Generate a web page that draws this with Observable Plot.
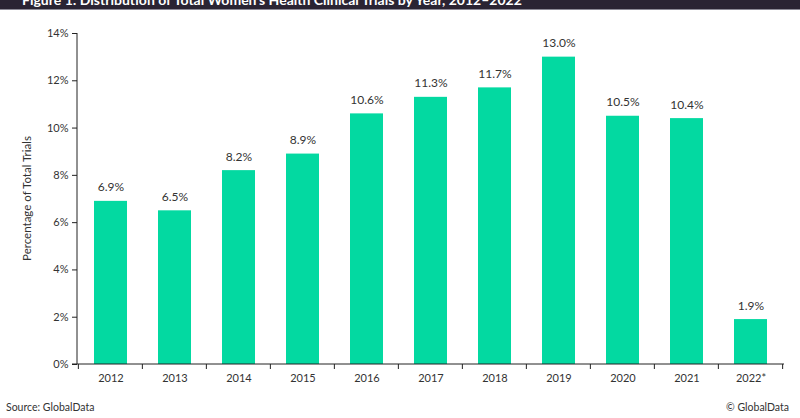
<!DOCTYPE html>
<html>
<head>
<meta charset="utf-8">
<script src="https://cdn.jsdelivr.net/npm/d3@7"></script>
<script src="https://cdn.jsdelivr.net/npm/@observablehq/plot@0.6"></script>
<style>
  html, body { margin: 0; padding: 0; background: #fff; width: 800px; height: 418px; overflow: hidden; }
  body { font-family: Lato, "Open Sans", sans-serif; }
  #title { height: 9px; background: #2a2433; border-bottom: 1px solid #8c8a96; overflow: hidden; position: relative; }
  #title span { position: absolute; left: 22px; top: -8px; color: #fff; font-weight: bold; font-size: 14px; line-height: 16px; white-space: nowrap; }
  #chart svg { display: block; }
  #footer { position: relative; height: 20px; font-size: 10.5px; color: #333; }
  #footer .l { position: absolute; left: 6px; top: 3px; }
  #footer .r { position: absolute; right: 11px; top: 3px; }
</style>
</head>
<body>
<div id="title"><span>Figure 1: Distribution of Total Women’s Health Clinical Trials by Year, 2012–2022</span></div>
<div id="chart"></div>
<div id="footer"><span class="l">Source: GlobalData</span><span class="r">© GlobalData</span></div>
<script>
const years = ["2012","2013","2014","2015","2016","2017","2018","2019","2020","2021","2022*"];
const values = [6.9, 6.5, 8.2, 8.9, 10.6, 11.3, 11.7, 13.0, 10.5, 10.4, 1.9];
const yTicks = [0, 2, 4, 6, 8, 10, 12, 14];
const data = years.map((y, i) => ({year: y, value: values[i]}));

const W = 800, H = 388, mL = 77, mR = 16, mT = 23, mB = 34;
const step = (W - mL - mR) / years.length;

const chart = Plot.plot({
  width: W, height: H,
  marginLeft: mL, marginRight: mR, marginTop: mT, marginBottom: mB,
  style: {fontFamily: "Lato, 'Open Sans', sans-serif", fontSize: "11px", color: "#333"},
  x: {type: "band", domain: years, paddingInner: 0.49, paddingOuter: 0.245, label: null},
  y: {type: "linear", domain: [0, 14], label: null},
  marks: [
    Plot.barY(data, {x: "year", y: "value", fill: "#03d9a1"}),
    Plot.text(data, {x: "year", y: "value", text: d => d.value.toFixed(1) + "%", dy: -10, lineAnchor: "bottom", fontSize: 12, fill: "#333"}),
    Plot.axisY({ticks: yTicks, tickFormat: d => d + "%", tickSize: 5, tickPadding: 4, fontSize: 11, fill: "#333", stroke: "#222", label: null}),
    Plot.axisX({tickSize: 0, tickPadding: 10, fontSize: 11, fill: "#333", label: null}),
  ]
});
document.getElementById("chart").appendChild(chart);

const svg = d3.select(chart);
const yScale = chart.scale("y");
const xScale = chart.scale("x");
svg.append("text")
  .attr("transform", `translate(31,${(yScale.apply(0) + yScale.apply(14)) / 2}) rotate(-90)`)
  .attr("text-anchor", "middle")
  .attr("font-size", 11.5)
  .attr("fill", "#333")
  .text("Percentage of Total Trials");
const y0 = yScale.apply(0);
const yTop = yScale.apply(14);
const g = svg.append("g").attr("stroke", "#222");
const bw = xScale.bandwidth;
years.forEach((y, i) => {
  const cx = xScale.apply(y) + bw / 2;
  const bx = cx - step / 2;
  g.append("line").attr("x1", bx).attr("x2", bx).attr("y1", y0).attr("y2", y0 + 5);
  if (i === years.length - 1) {
    g.append("line").attr("x1", cx + step / 2).attr("x2", cx + step / 2).attr("y1", y0).attr("y2", y0 + 5);
  }
});
g.append("line").attr("x1", mL - 5).attr("x2", W - mR).attr("y1", y0).attr("y2", y0);
g.append("line").attr("x1", mL).attr("x2", mL).attr("y1", yTop).attr("y2", y0);
</script>
</body>
</html>
